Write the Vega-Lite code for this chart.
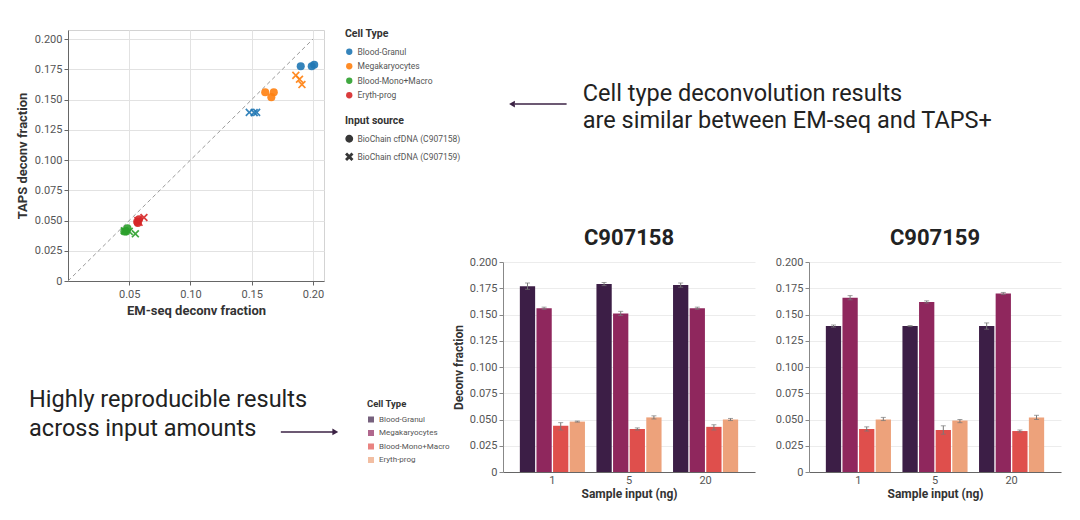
{
  "$schema": "https://vega.github.io/schema/vega-lite/v6.json",
  "background": "white",
  "padding": {"left": 15, "top": 28, "right": 5, "bottom": 5},
  "spacing": -9,
  "datasets": {
    "scatter": [
      {"type": "Blood-Granul", "source": "BioChain cfDNA (C907158)", "em": 0.190, "taps": 0.1776},
      {"type": "Blood-Granul", "source": "BioChain cfDNA (C907158)", "em": 0.199, "taps": 0.1776},
      {"type": "Blood-Granul", "source": "BioChain cfDNA (C907158)", "em": 0.201, "taps": 0.1787},
      {"type": "Blood-Granul", "source": "BioChain cfDNA (C907159)", "em": 0.148, "taps": 0.1394},
      {"type": "Blood-Granul", "source": "BioChain cfDNA (C907159)", "em": 0.154, "taps": 0.1394},
      {"type": "Blood-Granul", "source": "BioChain cfDNA (C907159)", "em": 0.152, "taps": 0.1392},
      {"type": "Megakaryocytes", "source": "BioChain cfDNA (C907158)", "em": 0.161, "taps": 0.156},
      {"type": "Megakaryocytes", "source": "BioChain cfDNA (C907158)", "em": 0.168, "taps": 0.156},
      {"type": "Megakaryocytes", "source": "BioChain cfDNA (C907158)", "em": 0.166, "taps": 0.152},
      {"type": "Megakaryocytes", "source": "BioChain cfDNA (C907159)", "em": 0.186, "taps": 0.170},
      {"type": "Megakaryocytes", "source": "BioChain cfDNA (C907159)", "em": 0.189, "taps": 0.1668},
      {"type": "Megakaryocytes", "source": "BioChain cfDNA (C907159)", "em": 0.191, "taps": 0.1624},
      {"type": "Blood-Mono+Macro", "source": "BioChain cfDNA (C907158)", "em": 0.046, "taps": 0.041},
      {"type": "Blood-Mono+Macro", "source": "BioChain cfDNA (C907158)", "em": 0.0485, "taps": 0.0435},
      {"type": "Blood-Mono+Macro", "source": "BioChain cfDNA (C907158)", "em": 0.0475, "taps": 0.041},
      {"type": "Blood-Mono+Macro", "source": "BioChain cfDNA (C907159)", "em": 0.050, "taps": 0.041},
      {"type": "Blood-Mono+Macro", "source": "BioChain cfDNA (C907159)", "em": 0.055, "taps": 0.039},
      {"type": "Blood-Mono+Macro", "source": "BioChain cfDNA (C907159)", "em": 0.046, "taps": 0.0415},
      {"type": "Eryth-prog", "source": "BioChain cfDNA (C907158)", "em": 0.0565, "taps": 0.049},
      {"type": "Eryth-prog", "source": "BioChain cfDNA (C907158)", "em": 0.058, "taps": 0.051},
      {"type": "Eryth-prog", "source": "BioChain cfDNA (C907158)", "em": 0.057, "taps": 0.048},
      {"type": "Eryth-prog", "source": "BioChain cfDNA (C907159)", "em": 0.062, "taps": 0.0525},
      {"type": "Eryth-prog", "source": "BioChain cfDNA (C907159)", "em": 0.058, "taps": 0.0485},
      {"type": "Eryth-prog", "source": "BioChain cfDNA (C907159)", "em": 0.057, "taps": 0.050}
    ],
    "bars": [
      {"sample": "C907158", "input": "1", "cell": "Blood-Granul", "mean": 0.177, "lo": 0.174, "hi": 0.180},
      {"sample": "C907158", "input": "1", "cell": "Megakaryocytes", "mean": 0.156, "lo": 0.155, "hi": 0.157},
      {"sample": "C907158", "input": "1", "cell": "Blood-Mono+Macro", "mean": 0.044, "lo": 0.040, "hi": 0.047},
      {"sample": "C907158", "input": "1", "cell": "Eryth-prog", "mean": 0.048, "lo": 0.0475, "hi": 0.0485},
      {"sample": "C907158", "input": "5", "cell": "Blood-Granul", "mean": 0.179, "lo": 0.1775, "hi": 0.1805},
      {"sample": "C907158", "input": "5", "cell": "Megakaryocytes", "mean": 0.151, "lo": 0.149, "hi": 0.153},
      {"sample": "C907158", "input": "5", "cell": "Blood-Mono+Macro", "mean": 0.041, "lo": 0.040, "hi": 0.042},
      {"sample": "C907158", "input": "5", "cell": "Eryth-prog", "mean": 0.052, "lo": 0.0505, "hi": 0.0535},
      {"sample": "C907158", "input": "20", "cell": "Blood-Granul", "mean": 0.178, "lo": 0.176, "hi": 0.180},
      {"sample": "C907158", "input": "20", "cell": "Megakaryocytes", "mean": 0.156, "lo": 0.155, "hi": 0.157},
      {"sample": "C907158", "input": "20", "cell": "Blood-Mono+Macro", "mean": 0.043, "lo": 0.040, "hi": 0.045},
      {"sample": "C907158", "input": "20", "cell": "Eryth-prog", "mean": 0.050, "lo": 0.049, "hi": 0.051},
      {"sample": "C907159", "input": "1", "cell": "Blood-Granul", "mean": 0.139, "lo": 0.138, "hi": 0.140},
      {"sample": "C907159", "input": "1", "cell": "Megakaryocytes", "mean": 0.166, "lo": 0.164, "hi": 0.168},
      {"sample": "C907159", "input": "1", "cell": "Blood-Mono+Macro", "mean": 0.041, "lo": 0.039, "hi": 0.043},
      {"sample": "C907159", "input": "1", "cell": "Eryth-prog", "mean": 0.050, "lo": 0.049, "hi": 0.052},
      {"sample": "C907159", "input": "5", "cell": "Blood-Granul", "mean": 0.139, "lo": 0.1385, "hi": 0.1395},
      {"sample": "C907159", "input": "5", "cell": "Megakaryocytes", "mean": 0.162, "lo": 0.161, "hi": 0.163},
      {"sample": "C907159", "input": "5", "cell": "Blood-Mono+Macro", "mean": 0.040, "lo": 0.036, "hi": 0.044},
      {"sample": "C907159", "input": "5", "cell": "Eryth-prog", "mean": 0.049, "lo": 0.047, "hi": 0.050},
      {"sample": "C907159", "input": "20", "cell": "Blood-Granul", "mean": 0.139, "lo": 0.136, "hi": 0.142},
      {"sample": "C907159", "input": "20", "cell": "Megakaryocytes", "mean": 0.170, "lo": 0.169, "hi": 0.171},
      {"sample": "C907159", "input": "20", "cell": "Blood-Mono+Macro", "mean": 0.039, "lo": 0.038, "hi": 0.040},
      {"sample": "C907159", "input": "20", "cell": "Eryth-prog", "mean": 0.052, "lo": 0.050, "hi": 0.054}
    ]
  },
  "resolve": {"scale": {"color": "independent", "shape": "independent"}},
  "hconcat": [
    {
      "spacing": 44,
      "resolve": {"scale": {"color": "independent"}},
      "vconcat": [
        {
          "width": 256,
          "height": 251,
          "view": {"stroke": "#d3d3d3"},
          "layer": [
            {
              "data": {"values": [{}]},
              "mark": {"type": "rule", "color": "#9a9a9a", "strokeDash": [4, 3], "strokeWidth": 1},
              "encoding": {
                "x": {"datum": 0, "type": "quantitative", "title": "EM-seq deconv fraction"},
                "y": {"datum": 0, "type": "quantitative", "title": "TAPS deconv fraction"},
                "x2": {"datum": 0.2},
                "y2": {"datum": 0.2}
              }
            },
            {
              "data": {"name": "scatter"},
              "mark": {"type": "point", "filled": true, "size": 65, "opacity": 0.9},
              "encoding": {
                "x": {
                  "field": "em", "type": "quantitative", "title": "EM-seq deconv fraction",
                  "scale": {"domain": [0, 0.209], "nice": false},
                  "axis": {"values": [0.05, 0.1, 0.15, 0.2], "tickCount": 10, "format": ".2f", "grid": true, "tickSize": 4, "labelPadding": 3, "titlePadding": 5}
                },
                "y": {
                  "field": "taps", "type": "quantitative", "title": "TAPS deconv fraction",
                  "scale": {"domain": [0, 0.2075], "nice": false},
                  "axis": {"values": [0, 0.025, 0.05, 0.075, 0.1, 0.125, 0.15, 0.175, 0.2], "tickCount": 10, "labelExpr": "datum.value == 0 ? '0' : format(datum.value, '.3f')", "grid": true, "tickSize": 4, "titlePadding": 5}
                },
                "color": {
                  "field": "type", "type": "nominal", "title": "Cell Type",
                  "scale": {"domain": ["Blood-Granul", "Megakaryocytes", "Blood-Mono+Macro", "Eryth-prog"], "range": ["#1f77b4", "#ff7f0e", "#2ca02c", "#d62728"]},
                  "legend": {"orient": "none", "legendX": 277, "legendY": -1, "titleFontSize": 10.5, "labelFontSize": 8.5, "symbolSize": 40, "rowPadding": 5.5, "titlePadding": 8, "symbolType": "circle"}
                },
                "shape": {
                  "field": "source", "type": "nominal", "title": "Input source",
                  "scale": {"domain": ["BioChain cfDNA (C907158)", "BioChain cfDNA (C907159)"], "range": ["circle", "M-1,-0.7L-0.7,-1L0,-0.3L0.7,-1L1,-0.7L0.3,0L1,0.7L0.7,1L0,0.3L-0.7,1L-1,0.7L-0.3,0Z"]},
                  "legend": {"orient": "none", "legendX": 277, "legendY": 86, "titleFontSize": 10.5, "labelFontSize": 8.5, "symbolSize": 40, "rowPadding": 5, "titlePadding": 8, "symbolFillColor": "#222", "symbolStrokeColor": "#222"}
                }
              }
            }
          ]
        },
        {
          "width": 330,
          "height": 110,
          "layer": [
            {
              "data": {"values": [{"text": "Highly reproducible results\nacross input amounts"}]},
              "mark": {"type": "text", "align": "left", "baseline": "alphabetic", "lineBreak": "\n", "lineHeight": 29, "fontSize": 23.5, "color": "#222"},
              "encoding": {
                "x": {"datum": -0.118, "type": "quantitative", "scale": {"domain": [0, 1]}, "axis": null},
                "y": {"datum": 0.409, "type": "quantitative", "scale": {"domain": [0, 1], "reverse": true}, "axis": null},
                "text": {"field": "text"}
              }
            },
            {
              "data": {"values": [{}]},
              "mark": {"type": "rule", "color": "#3b2244", "strokeWidth": 1.5},
              "encoding": {
                "x": {"datum": 0.645, "type": "quantitative"},
                "x2": {"datum": 0.805},
                "y": {"datum": 0.636, "type": "quantitative"}
              }
            },
            {
              "data": {"values": [{}]},
              "mark": {"type": "point", "shape": "triangle-right", "filled": true, "size": 45, "color": "#3b2244", "opacity": 1},
              "encoding": {
                "x": {"datum": 0.81, "type": "quantitative"},
                "y": {"datum": 0.636, "type": "quantitative"}
              }
            },
            {
              "data": {"values": [{"cell": "Blood-Granul"}]},
              "transform": [{"filter": "false"}],
              "mark": {"type": "square"},
              "encoding": {
                "color": {
                  "field": "cell", "type": "nominal", "title": "Cell Type",
                  "scale": {"domain": ["Blood-Granul", "Megakaryocytes", "Blood-Mono+Macro", "Eryth-prog"], "range": ["#3c1e46", "#8f275d", "#df4f4c", "#eda27b"]},
                  "legend": {"orient": "none", "legendX": 299, "legendY": 37, "titleFontSize": 9.5, "labelFontSize": 8, "symbolSize": 36, "symbolType": "square", "rowPadding": 5.5, "titlePadding": 7}
                }
              }
            }
          ]
        }
      ]
    },
    {
      "spacing": 8,
      "vconcat": [
        {
          "width": 600,
          "height": 189,
          "layer": [
            {
              "data": {"values": [{"text": "Cell type deconvolution results\nare similar between EM-seq and TAPS+"}]},
              "mark": {"type": "text", "align": "left", "baseline": "alphabetic", "lineBreak": "\n", "lineHeight": 27.5, "fontSize": 23.5, "color": "#222"},
              "encoding": {
                "x": {"datum": 0.133, "type": "quantitative", "scale": {"domain": [0, 1]}, "axis": null},
                "y": {"datum": 0.3755, "type": "quantitative", "scale": {"domain": [0, 1], "reverse": true}, "axis": null},
                "text": {"field": "text"}
              }
            },
            {
              "data": {"values": [{}]},
              "mark": {"type": "rule", "color": "#3b2244", "strokeWidth": 1.5},
              "encoding": {
                "x": {"datum": 0.02, "type": "quantitative"},
                "x2": {"datum": 0.106},
                "y": {"datum": 0.392, "type": "quantitative"}
              }
            },
            {
              "data": {"values": [{}]},
              "mark": {"type": "point", "shape": "triangle-left", "filled": true, "size": 45, "color": "#3b2244", "opacity": 1},
              "encoding": {
                "x": {"datum": 0.015, "type": "quantitative"},
                "y": {"datum": 0.392, "type": "quantitative"}
              }
            }
          ]
        },
        {
          "spacing": 20,
          "hconcat": [
            {
              "width": 252,
              "height": 210,
              "title": {"text": "C907158", "fontSize": 22, "fontWeight": "bold", "color": "#222", "offset": 6},
              "data": {"name": "bars"},
              "transform": [{"filter": "datum.sample == 'C907158'"}],
              "encoding": {
                "x": {"field": "input", "type": "nominal", "sort": ["1", "5", "20"], "title": "Sample input (ng)", "scale": {"paddingInner": 0.15, "paddingOuter": 0.22}, "axis": {"labelAngle": 0, "ticks": false, "labelPadding": 2, "titlePadding": 3, "titleFontSize": 12}},
                "xOffset": {"field": "cell", "type": "nominal", "sort": ["Blood-Granul", "Megakaryocytes", "Blood-Mono+Macro", "Eryth-prog"], "scale": {"paddingInner": 0.08}}
              },
              "layer": [
                {
                  "mark": {"type": "bar"},
                  "encoding": {
                    "y": {"field": "mean", "type": "quantitative", "title": "Deconv fraction", "scale": {"domain": [0, 0.2], "nice": false}, "axis": {"values": [0, 0.025, 0.05, 0.075, 0.1, 0.125, 0.15, 0.175, 0.2], "tickCount": 10, "labelExpr": "datum.value == 0 ? '0' : format(datum.value, '.3f')", "gridColor": "#ececec", "domainColor": "#888", "tickColor": "#888", "tickSize": 4, "titleFontSize": 12}},
                    "color": {"field": "cell", "type": "nominal", "scale": {"domain": ["Blood-Granul", "Megakaryocytes", "Blood-Mono+Macro", "Eryth-prog"], "range": ["#3c1e46", "#8f275d", "#df4f4c", "#eda27b"]}, "legend": null}
                  }
                },
                {
                  "mark": {"type": "rule", "color": "#777", "strokeWidth": 1},
                  "encoding": {"y": {"field": "lo", "type": "quantitative", "title": "Deconv fraction"}, "y2": {"field": "hi"}}
                },
                {
                  "mark": {"type": "tick", "color": "#777", "thickness": 1, "size": 5},
                  "encoding": {"y": {"field": "hi", "type": "quantitative", "title": "Deconv fraction"}}
                },
                {
                  "mark": {"type": "tick", "color": "#777", "thickness": 1, "size": 5},
                  "encoding": {"y": {"field": "lo", "type": "quantitative", "title": "Deconv fraction"}}
                }
              ]
            },
            {
              "width": 252,
              "height": 210,
              "title": {"text": "C907159", "fontSize": 22, "fontWeight": "bold", "color": "#222", "offset": 6},
              "data": {"name": "bars"},
              "transform": [{"filter": "datum.sample == 'C907159'"}],
              "encoding": {
                "x": {"field": "input", "type": "nominal", "sort": ["1", "5", "20"], "title": "Sample input (ng)", "scale": {"paddingInner": 0.15, "paddingOuter": 0.22}, "axis": {"labelAngle": 0, "ticks": false, "labelPadding": 2, "titlePadding": 3, "titleFontSize": 12}},
                "xOffset": {"field": "cell", "type": "nominal", "sort": ["Blood-Granul", "Megakaryocytes", "Blood-Mono+Macro", "Eryth-prog"], "scale": {"paddingInner": 0.08}}
              },
              "layer": [
                {
                  "mark": {"type": "bar"},
                  "encoding": {
                    "y": {"field": "mean", "type": "quantitative", "title": null, "scale": {"domain": [0, 0.2], "nice": false}, "axis": {"values": [0, 0.025, 0.05, 0.075, 0.1, 0.125, 0.15, 0.175, 0.2], "tickCount": 10, "labelExpr": "datum.value == 0 ? '0' : format(datum.value, '.3f')", "gridColor": "#ececec", "domainColor": "#888", "tickColor": "#888", "tickSize": 4}},
                    "color": {"field": "cell", "type": "nominal", "scale": {"domain": ["Blood-Granul", "Megakaryocytes", "Blood-Mono+Macro", "Eryth-prog"], "range": ["#3c1e46", "#8f275d", "#df4f4c", "#eda27b"]}, "legend": null}
                  }
                },
                {
                  "mark": {"type": "rule", "color": "#777", "strokeWidth": 1},
                  "encoding": {"y": {"field": "lo", "type": "quantitative", "title": null}, "y2": {"field": "hi"}}
                },
                {
                  "mark": {"type": "tick", "color": "#777", "thickness": 1, "size": 5},
                  "encoding": {"y": {"field": "hi", "type": "quantitative", "title": null}}
                },
                {
                  "mark": {"type": "tick", "color": "#777", "thickness": 1, "size": 5},
                  "encoding": {"y": {"field": "lo", "type": "quantitative", "title": null}}
                }
              ]
            }
          ]
        }
      ]
    }
  ],
  "config": {
    "font": "Roboto",
    "view": {"stroke": null},
    "axis": {"labelFontSize": 11, "labelColor": "#555", "labelOverlap": false, "titleFontSize": 13, "titleFontWeight": "bold", "titleColor": "#333", "gridColor": "#e2e2e2", "domainColor": "#666", "tickColor": "#666"},
    "legend": {"labelColor": "#555", "titleColor": "#333"},
    "title": {"font": "Roboto"}
  }
}
